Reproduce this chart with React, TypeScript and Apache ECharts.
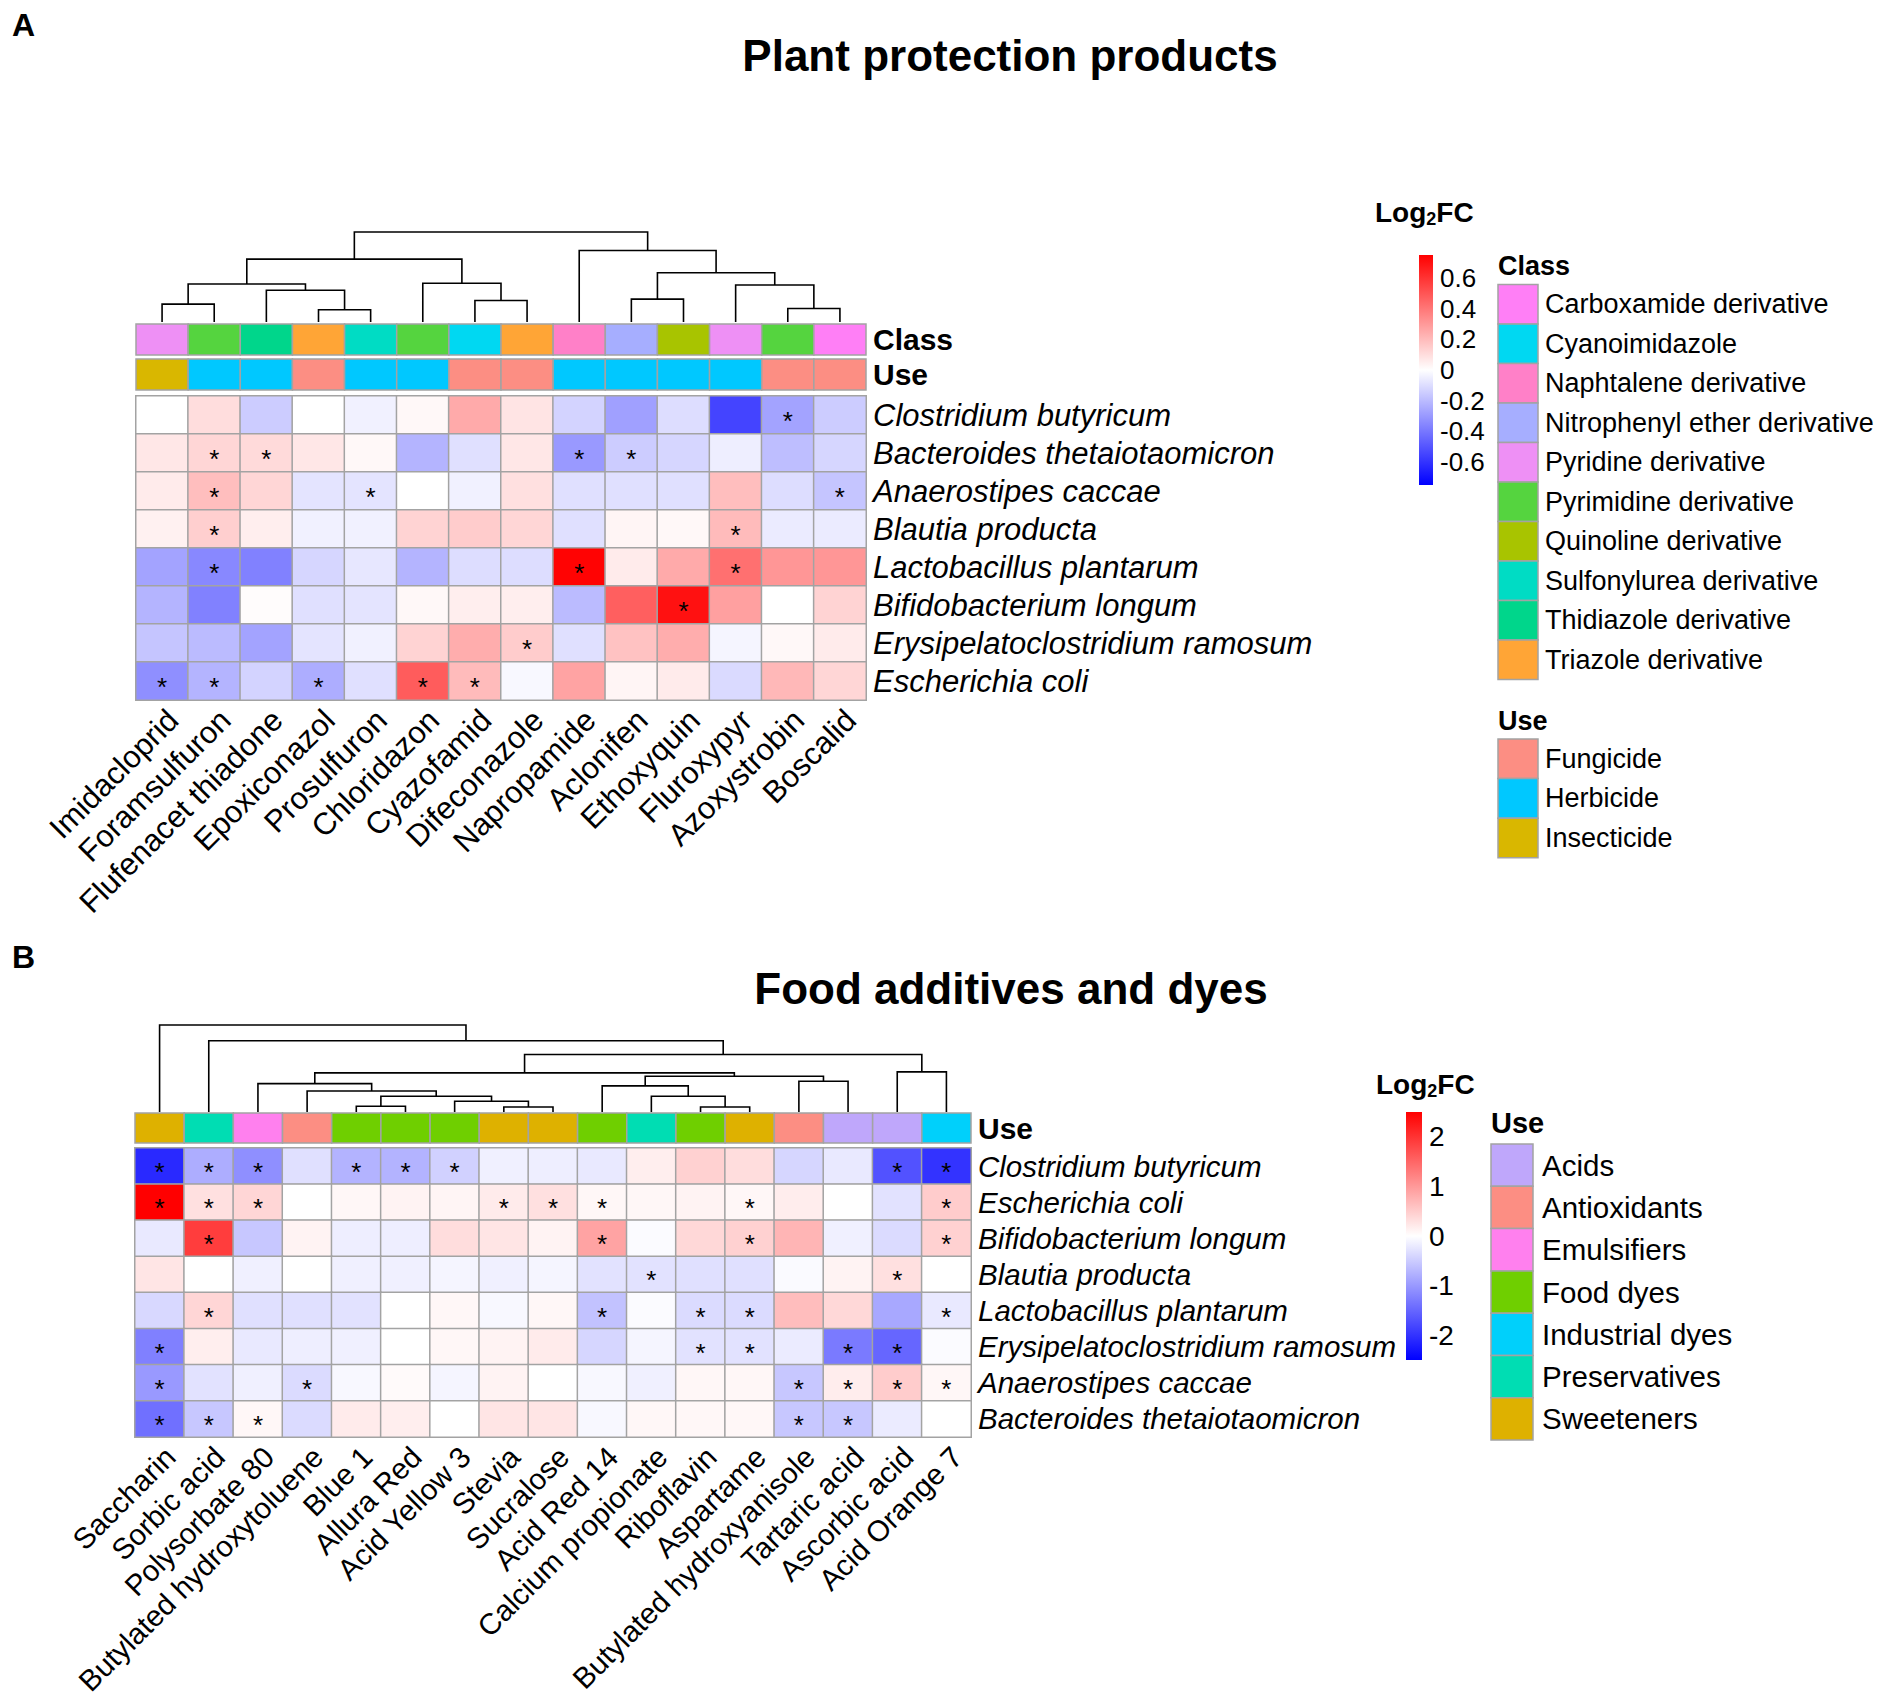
import React, { useEffect, useRef } from 'react';
import * as echarts from 'echarts';

const FONT = '"Liberation Sans", Arial, sans-serif';

// ---------- Panel A data ----------
const colsA = ['Imidacloprid', 'Foramsulfuron', 'Flufenacet thiadone', 'Epoxiconazol', 'Prosulfuron', 'Chloridazon', 'Cyazofamid', 'Difeconazole', 'Napropamide', 'Aclonifen', 'Ethoxyquin', 'Fluroxypyr', 'Azoxystrobin', 'Boscalid'];
const rowsA = ['Clostridium butyricum', 'Bacteroides thetaiotaomicron', 'Anaerostipes caccae', 'Blautia producta', 'Lactobacillus plantarum', 'Bifidobacterium longum', 'Erysipelatoclostridium ramosum', 'Escherichia coli'];
const valuesA = [
  [0, 0.1, -0.15, 0, -0.04, 0.02, 0.25, 0.08, -0.13, -0.28, -0.1, -0.55, -0.27, -0.15],
  [0.07, 0.12, 0.11, 0.07, 0.02, -0.22, -0.09, 0.07, -0.3, -0.15, -0.12, -0.05, -0.19, -0.12],
  [0.06, 0.19, 0.12, -0.08, -0.08, 0, -0.04, 0.09, -0.09, -0.09, -0.09, 0.19, -0.1, -0.17],
  [0.04, 0.14, 0.05, -0.04, -0.04, 0.13, 0.15, 0.12, -0.09, 0.03, 0.02, 0.2, -0.06, -0.06],
  [-0.27, -0.35, -0.37, -0.12, -0.07, -0.22, -0.1, -0.1, 0.74, 0.06, 0.25, 0.42, 0.31, 0.31],
  [-0.22, -0.37, 0.01, -0.09, -0.08, 0.02, 0.05, 0.05, -0.2, 0.47, 0.7, 0.28, 0, 0.13],
  [-0.17, -0.2, -0.27, -0.08, -0.04, 0.13, 0.24, 0.15, -0.09, 0.18, 0.24, -0.03, 0.02, 0.06],
  [-0.33, -0.22, -0.13, -0.24, -0.09, 0.48, 0.2, -0.02, 0.27, 0.03, 0.06, -0.11, 0.21, 0.12],
];
const sigA = [[12], [1, 2, 8, 9], [1, 4, 13], [1, 11], [1, 8, 11], [10], [7], [0, 1, 3, 5, 6]];
const classNamesA = ['Carboxamide derivative', 'Cyanoimidazole', 'Naphtalene derivative', 'Nitrophenyl ether derivative', 'Pyridine derivative', 'Pyrimidine derivative', 'Quinoline derivative', 'Sulfonylurea derivative', 'Thidiazole derivative', 'Triazole derivative'];
const classColorsA = ['#FF7FF6', '#00D8F2', '#FF80C8', '#A6AEFF', '#EE90F5', '#55D43F', '#A8C400', '#00DCC4', '#00D68B', '#FFA536'];
const colClassA = [4, 5, 8, 9, 7, 5, 1, 9, 2, 3, 6, 4, 5, 0];
const useNamesA = ['Fungicide', 'Herbicide', 'Insecticide'];
const useColorsA = ['#FC8E83', '#00C8FF', '#D9B700'];
const colUseA = [2, 1, 1, 0, 1, 1, 0, 0, 1, 1, 1, 1, 0, 0];
// nested [left, right, height]
const dendroA: any = [[[[0, 1, 18], [2, [3, 4, 12.3], 32], 38.3], [5, [6, 7, 21.6], 39], 63.3], [8, [[9, 10, 23], [11, [12, 13, 13.6], 37.3], 49.6], 72], 90.6];
const rangeA = 0.75;
const ticksA = [-0.6, -0.4, -0.2, 0, 0.2, 0.4, 0.6];

// ---------- Panel B data ----------
const colsB = ['Saccharin', 'Sorbic acid', 'Polysorbate 80', 'Butylated hydroxytoluene', 'Blue 1', 'Allura Red', 'Acid Yellow 3', 'Stevia', 'Sucralose', 'Acid Red 14', 'Calcium propionate', 'Riboflavin', 'Aspartame', 'Butylated hydroxyanisole', 'Tartaric acid', 'Ascorbic acid', 'Acid Orange 7'];
const rowsB = ['Clostridium butyricum', 'Escherichia coli', 'Bifidobacterium longum', 'Blautia producta', 'Lactobacillus plantarum', 'Erysipelatoclostridium ramosum', 'Anaerostipes caccae', 'Bacteroides thetaiotaomicron'];
const valuesB = [
  [-2.1, -0.8, -1.1, -0.3, -0.75, -0.75, -0.45, -0.15, -0.17, -0.22, 0.17, 0.45, 0.33, -0.4, -0.22, -1.7, -2.0],
  [2.5, 0.3, 0.4, 0, 0.08, 0.12, 0.1, 0.2, 0.3, 0.08, 0.08, 0.12, 0.08, 0.18, 0, -0.28, 0.5],
  [-0.22, 1.9, -0.55, 0.12, -0.17, -0.17, 0.33, 0.25, 0.12, 0.9, -0.04, 0.38, 0.45, 0.73, -0.15, -0.35, 0.45],
  [0.25, 0, -0.15, 0, -0.15, -0.15, -0.1, -0.15, -0.1, -0.28, -0.28, -0.3, -0.3, -0.05, 0.12, 0.3, 0],
  [-0.38, 0.4, -0.3, -0.3, -0.28, 0, 0.08, -0.07, 0.08, -0.6, -0.04, -0.35, -0.35, 0.65, 0.38, -0.85, -0.22],
  [-1.25, 0.17, -0.22, -0.17, -0.15, 0, 0.08, 0.12, 0.2, -0.4, -0.1, -0.28, -0.28, -0.2, -1.3, -1.5, -0.04],
  [-1.0, -0.28, -0.15, -0.35, -0.07, 0.05, -0.1, 0.12, 0, -0.07, -0.15, 0.08, 0.08, -0.55, 0.18, 0.5, 0.08],
  [-1.4, -0.55, 0.08, -0.35, 0.2, 0.17, 0, 0.25, 0.25, -0.07, 0.08, 0.08, 0.08, -0.55, -0.55, -0.2, 0],
];
const sigB = [[0, 1, 2, 4, 5, 6, 15, 16], [0, 1, 2, 7, 8, 9, 12, 16], [1, 9, 12, 16], [10, 15], [1, 9, 11, 12, 16], [0, 11, 12, 14, 15], [0, 3, 13, 14, 15, 16], [0, 1, 2, 13, 14]];
const useNamesB = ['Acids', 'Antioxidants', 'Emulsifiers', 'Food dyes', 'Industrial dyes', 'Preservatives', 'Sweeteners'];
const useColorsB = ['#BFA7FB', '#FC8E83', '#FF80EE', '#6FCF00', '#00D0FB', '#00DDB3', '#DEB100'];
const colUseB = [6, 5, 2, 1, 3, 3, 3, 6, 6, 3, 5, 3, 6, 1, 0, 0, 4];
const dendroB: any = [0, [1, [[[2, [3, [[4, 5, 5.7], [6, [7, 8, 5], 10.7], 15.7], 21], 28.3], [[9, [10, [11, 12, 5], 15.7], 26], [13, 14, 30.7], 35.7], 39], [15, 16, 40], 57.3], 71], 86.7];
const rangeB = 2.5;
const ticksB = [-2, -1, 0, 1, 2];

// ---------- helpers ----------
function dendroSegments(tree: any) {
  const segs: number[][] = [];
  const walk = (n: any): { x: number; h: number } => {
    if (typeof n === 'number') return { x: n + 0.5, h: 0 };
    const L = walk(n[0]);
    const R = walk(n[1]);
    segs.push([L.x, L.h, R.x, R.h, n[2]]);
    return { x: (L.x + R.x) / 2, h: n[2] };
  };
  walk(tree);
  return segs;
}

function heatData(values: number[][], sig: number[][]) {
  const d: number[][] = [];
  values.forEach((row, r) => row.forEach((v, c) => d.push([c, r, v, sig[r].includes(c) ? 1 : 0])));
  return d;
}

const GREY = '#a3a3a3';

function buildOption() {
  const grids: any[] = [];
  const xAxes: any[] = [];
  const yAxes: any[] = [];
  const series: any[] = [];
  const hidden = { show: false };

  const addGrid = (g: any, xa: any, ya: any) => {
    grids.push({ ...g, containLabel: false });
    const i = grids.length - 1;
    xAxes.push({ gridIndex: i, ...xa });
    yAxes.push({ gridIndex: i, ...ya });
    return i;
  };

  const panel = (cfg: any) => {
    const { left, width, cols, rows, values, sig, dendro, dTop, dH, strips, heatTop, heatH, range, bar, ticks, rowFont, colFont, tickFont } = cfg;
    const n = cols.length;
    // dendrogram
    const segs = dendroSegments(dendro);
    const maxH = Math.max(...segs.map((s) => s[4]));
    const gd = addGrid({ left, top: dTop, width, height: dH }, { type: 'value', min: 0, max: n, show: false }, { type: 'value', min: 0, max: maxH, show: false });
    series.push({
      type: 'custom', xAxisIndex: gd, yAxisIndex: gd, clip: false, silent: true,
      data: segs,
      renderItem: (p: any, api: any) => {
        const a = api.coord([api.value(0), api.value(1)]);
        const b = api.coord([api.value(0), api.value(4)]);
        const c = api.coord([api.value(2), api.value(4)]);
        const d = api.coord([api.value(2), api.value(3)]);
        return { type: 'polyline', shape: { points: [a, b, c, d] }, style: { stroke: '#000', lineWidth: 1.6, fill: null } };
      },
    });
    // annotation strips
    strips.forEach((s: any) => {
      const gi = addGrid({ left, top: s.top, width, height: s.h },
        { type: 'category', data: cols, show: false },
        { type: 'category', data: [s.name], position: 'right', axisLine: hidden, axisTick: hidden,
          axisLabel: { fontSize: 30, fontWeight: 'bold', color: '#000', margin: 7, fontFamily: FONT } });
      series.push({
        type: 'custom', xAxisIndex: gi, yAxisIndex: gi, silent: true,
        data: s.idx.map((k: number, c: number) => [c, 0, k]),
        renderItem: (p: any, api: any) => {
          const ctr = api.coord([api.value(0), api.value(1)]);
          const sz = api.size([1, 1]);
          return { type: 'rect', shape: { x: ctr[0] - sz[0] / 2, y: ctr[1] - sz[1] / 2, width: sz[0], height: sz[1] },
            style: { fill: s.colors[api.value(2)], stroke: GREY, lineWidth: 1.5 } };
        },
      });
    });
    // heatmap
    const gh = addGrid({ left, top: heatTop, width, height: heatH },
      { type: 'category', data: cols, position: 'bottom', axisLine: hidden, axisTick: hidden, splitLine: hidden,
        axisLabel: { rotate: 45, interval: 0, hideOverlap: false, fontSize: colFont, color: '#000', margin: 4, verticalAlign: 'top', fontFamily: FONT } },
      { type: 'category', data: rows, inverse: true, position: 'right', axisLine: hidden, axisTick: hidden, splitLine: hidden,
        axisLabel: { interval: 0, hideOverlap: false, fontSize: rowFont, fontStyle: 'italic', color: '#000', margin: 7, fontFamily: FONT } });
    series.push({
      type: 'heatmap', xAxisIndex: gh, yAxisIndex: gh, silent: true,
      data: heatData(values, sig),
      itemStyle: { borderColor: GREY, borderWidth: 1.5 },
      emphasis: { disabled: true },
      label: { show: true, formatter: (p: any) => (p.data[3] ? '*' : ''), fontSize: 26, color: '#000', offset: [0, 6], fontFamily: FONT },
    });
    const heatSeriesIndex = series.length - 1;
    // colour bar
    const gb = addGrid({ left: bar.left, top: bar.top, width: bar.w, height: bar.h },
      { type: 'value', min: 0, max: 1, show: false },
      { type: 'value', min: -range, max: range, position: 'right', axisLine: hidden, axisTick: hidden, splitLine: hidden,
        axisLabel: { customValues: ticks, fontSize: tickFont, color: '#000', margin: 7, fontFamily: FONT,
          formatter: (v: number) => String(Math.round(v * 10) / 10) } });
    series.push({
      type: 'custom', xAxisIndex: gb, yAxisIndex: gb, silent: true, clip: false,
      data: [[0, range, 1, -range]],
      renderItem: (p: any, api: any) => {
        const tl = api.coord([api.value(0), api.value(1)]);
        const br = api.coord([api.value(2), api.value(3)]);
        return { type: 'rect', shape: { x: tl[0], y: tl[1], width: br[0] - tl[0], height: br[1] - tl[1] },
          style: { fill: new echarts.graphic.LinearGradient(0, 0, 0, 1, [
            { offset: 0, color: '#FF0000' }, { offset: 0.5, color: '#FFFFFF' }, { offset: 1, color: '#0000FF' }]) } };
      },
    });
    return { seriesIndex: heatSeriesIndex, min: -range, max: range };
  };

  const vA = panel({
    left: 136, width: 730, cols: colsA, rows: rowsA, values: valuesA, sig: sigA, dendro: dendroA, dTop: 232, dH: 90,
    strips: [
      { name: 'Class', top: 324, h: 31, idx: colClassA, colors: classColorsA },
      { name: 'Use', top: 359, h: 31, idx: colUseA, colors: useColorsA },
    ],
    heatTop: 396, heatH: 304, range: rangeA, bar: { left: 1419, top: 255, w: 14, h: 230 }, ticks: ticksA, rowFont: 31, colFont: 31, tickFont: 26,
  });
  const vB = panel({
    left: 135, width: 836, cols: colsB, rows: rowsB, values: valuesB, sig: sigB, dendro: dendroB, dTop: 1025, dH: 87,
    strips: [{ name: 'Use', top: 1113, h: 30, idx: colUseB, colors: useColorsB }],
    heatTop: 1148, heatH: 289, range: rangeB, bar: { left: 1406, top: 1112, w: 16, h: 248 }, ticks: ticksB, rowFont: 29.5, colFont: 29.5, tickFont: 28,
  });

  const visualMap = [vA, vB].map((v) => ({
    type: 'continuous', show: false, seriesIndex: v.seriesIndex, dimension: 2, min: v.min, max: v.max,
    inRange: { color: ['#0000FF', '#FFFFFF', '#FF0000'] },
  }));

  // graphic texts & legends
  const g: any[] = [];
  const txt = (text: string, x: number, y: number, size: number, bold: boolean, align = 'left') =>
    g.push({ type: 'text', x, y, silent: true, style: { text, fontSize: size, fontWeight: bold ? 'bold' : 'normal', fontFamily: FONT, fill: '#000', textAlign: align, textVerticalAlign: 'middle' } });
  txt('A', 12, 25, 32, true);
  txt('Plant protection products', 1010, 55, 44, true, 'center');
  txt('B', 12, 957, 32, true);
  txt('Food additives and dyes', 1011, 988, 44, true, 'center');
  const log2fc = (x: number, y: number) => g.push({
    type: 'text', x, y, silent: true,
    style: { text: '{a|Log}{b|2}{a|FC}', fontFamily: FONT, fill: '#000', textVerticalAlign: 'middle',
      rich: { a: { fontSize: 28, fontWeight: 'bold', lineHeight: 32, fontFamily: FONT }, b: { fontSize: 18, fontWeight: 'bold', lineHeight: 18, verticalAlign: 'bottom', fontFamily: FONT } } },
  });
  log2fc(1375, 212);
  log2fc(1376, 1084);
  const legend = (title: string, names: string[], colors: string[], x: number, titleY: number, top: number, step: number, bw: number, tx: number, fs: number, tfs: number) => {
    txt(title, x, titleY, tfs, true);
    names.forEach((nm, i) => {
      g.push({ type: 'rect', silent: true, shape: { x, y: top + i * step, width: bw, height: step }, style: { fill: colors[i], stroke: GREY, lineWidth: 1.5 } });
      txt(nm, tx, top + i * step + step / 2, fs, false);
    });
  };
  legend('Class', classNamesA, classColorsA, 1498, 266, 284.6, 39.5, 40, 1545, 27, 27);
  legend('Use', useNamesA, useColorsA, 1498, 721, 739, 39.6, 40, 1545, 27, 27);
  legend('Use', useNamesB, useColorsB, 1491, 1123, 1144, 42.3, 42, 1542, 29.5, 29);

  return {
    animation: false,
    backgroundColor: '#ffffff',
    textStyle: { fontFamily: FONT },
    grid: grids, xAxis: xAxes, yAxis: yAxes, series, visualMap, graphic: g,
  };
}

export default function App() {
  const ref = useRef<HTMLDivElement>(null);
  useEffect(() => {
    document.body.style.margin = '0';
    const chart = echarts.init(ref.current!, undefined, { renderer: 'svg' });
    chart.setOption(buildOption() as any);
    return () => chart.dispose();
  }, []);
  return <div ref={ref} style={{ width: 1890, height: 1702 }} />;
}
